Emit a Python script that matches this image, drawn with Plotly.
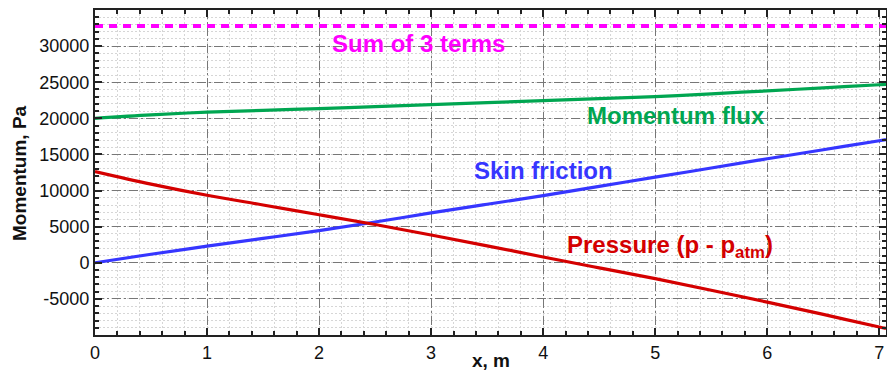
import plotly.graph_objects as go

# ---- data ----
x_m = [0, 0.5, 1, 1.5, 2, 2.5, 3, 3.5, 4, 4.5, 5, 5.5, 6, 6.5, 7, 7.06]
momentum_flux = [20000, 20480, 20850, 21100, 21350, 21620, 21900, 22170, 22450,
                 22720, 23000, 23400, 23800, 24220, 24650, 24700]
skin_friction = [0, 1180, 2300, 3380, 4450, 5650, 6900, 8100, 9300,
                 10580, 11850, 13120, 14400, 15650, 16900, 17050]
pressure = [12640, 10900, 9350, 8000, 6650, 5300, 3850, 2350, 800,
            -700, -2200, -3800, -5450, -7150, -8900, -9100]
sum_terms = [32780] * len(x_m)

x_ticks = [0, 1, 2, 3, 4, 5, 6, 7]
y_ticks = [-5000, 0, 5000, 10000, 15000, 20000, 25000, 30000]

FONT = "Liberation Sans, Arial, sans-serif"
MAGENTA = "#ff00ff"
GREEN = "#00a651"
BLUE = "#3636ff"
RED = "#d40000"

fig = go.Figure()
fig.add_trace(go.Scatter(x=x_m, y=sum_terms, mode="lines",
                         line=dict(color=MAGENTA, width=4, dash="8px,6px"),
                         name="Sum of 3 terms"))
fig.add_trace(go.Scatter(x=x_m, y=momentum_flux, mode="lines",
                         line=dict(color=GREEN, width=3.2, shape="spline"),
                         name="Momentum flux"))
fig.add_trace(go.Scatter(x=x_m, y=skin_friction, mode="lines",
                         line=dict(color=BLUE, width=3.2, shape="spline"),
                         name="Skin friction"))
fig.add_trace(go.Scatter(x=x_m, y=pressure, mode="lines",
                         line=dict(color=RED, width=3.2, shape="spline"),
                         name="Pressure"))

ann_font = dict(family=FONT, size=24)
annots = [
    dict(x=2.89, y=30420, text="<b>Sum of 3 terms</b>", font=dict(ann_font, color=MAGENTA)),
    dict(x=5.19, y=20400, text="<b>Momentum flux</b>", font=dict(ann_font, color=GREEN)),
    dict(x=4.0, y=12780, text="<b>Skin friction</b>", font=dict(ann_font, color=BLUE)),
    dict(x=5.13, y=2200, text="<b>Pressure (p - p<sub>atm</sub>)</b>", font=dict(ann_font, color=RED)),
]
for a in annots:
    fig.add_annotation(xref="x", yref="y", showarrow=False, **a)

# axis titles placed as annotations (reference puts them very close to the ticks)
fig.add_annotation(xref="paper", yref="paper", x=0.5, y=-0.078, yanchor="middle",
                   showarrow=False, text="<b>x, m</b>",
                   font=dict(family=FONT, size=19, color="#111"))
fig.add_annotation(xref="paper", yref="paper", x=-0.0955, y=0.5, xanchor="center",
                   textangle=-90, showarrow=False, text="<b>Momentum, Pa</b>",
                   font=dict(family=FONT, size=19, color="#111"))

axis_common = dict(
    showline=True, linecolor="#222", linewidth=2, mirror="ticks",
    ticks="inside", ticklen=7, tickwidth=1.5, tickcolor="#222",
    showgrid=True, gridcolor="#777", gridwidth=1.2, griddash="9px,3px,2px,3px",
    zeroline=False, automargin=False,
    tickfont=dict(family=FONT, size=18, color="#111"),
)
minor_common = dict(ticks="inside", ticklen=4, tickcolor="#222", showgrid=True,
                    gridcolor="#d6d6d6", griddash="2px,2px", gridwidth=1)

fig.update_xaxes(
    range=[0, 7.06], tickmode="array", tickvals=x_ticks,
    ticktext=[str(v) for v in x_ticks],
    minor=dict(tickmode="linear", tick0=0, dtick=0.2, **minor_common),
    **axis_common,
)
fig.update_yaxes(
    range=[-10000, 35000], tickmode="array", tickvals=y_ticks,
    ticktext=[str(v) for v in y_ticks],
    minor=dict(tickmode="linear", tick0=0, dtick=1000, **minor_common),
    **axis_common,
)

fig.update_layout(
    width=887, height=370,
    margin=dict(l=95, r=1, t=10, b=35),
    plot_bgcolor="white", paper_bgcolor="white",
    showlegend=False,
    font=dict(family=FONT),
)

fig.write_html("out.html", config={"displayModeBar": False},
               post_script="document.body.style.margin='0';document.body.style.overflow='hidden';")
